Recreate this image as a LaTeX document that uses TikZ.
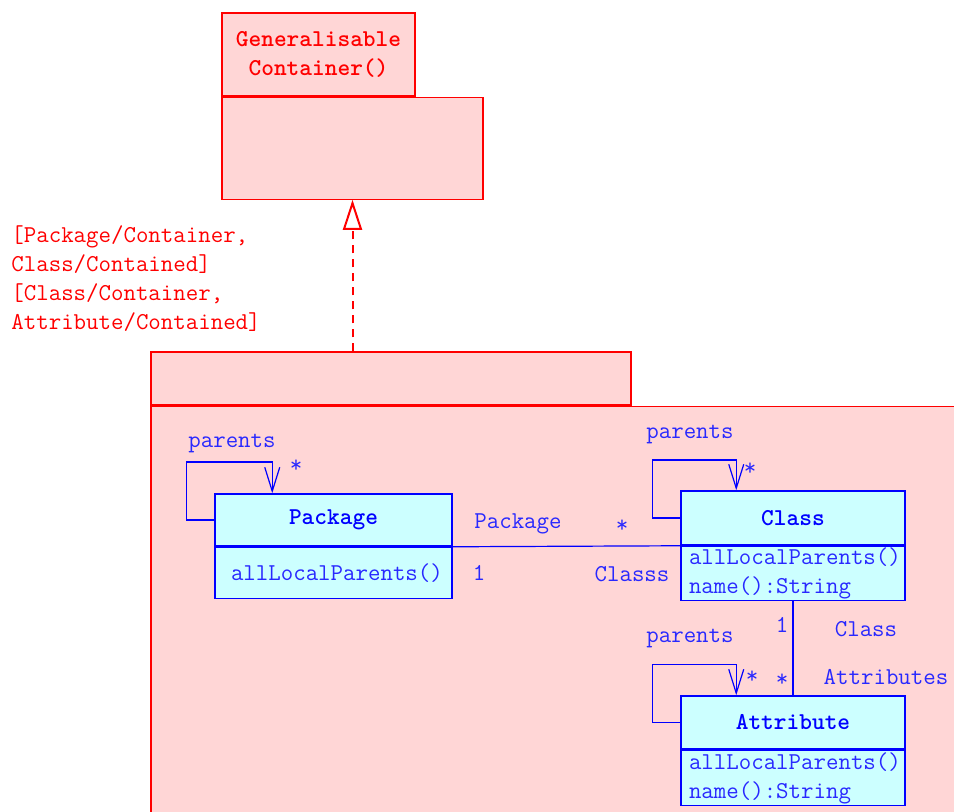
\documentclass[tikz,border=0pt]{standalone}
\usepackage{tikz}
\usetikzlibrary{shapes,arrows,arrows.meta,positioning,calc}
\usepackage{xcolor}
\definecolor{tmplred}{RGB}{255,0,0}
\definecolor{tmplfill}{RGB}{255,214,214}
\definecolor{umlblue}{RGB}{0,0,255}
\definecolor{labelblue}{RGB}{40,40,255}
\definecolor{classfill}{RGB}{204,255,255}
\newcommand{\mbr}[1]{\hspace*{#1}}

\begin{document}
\begin{tikzpicture}[x=0.5pt, y=-0.5pt,
    every node/.style={font=\ttfamily\fontsize{12.1}{14.5}\selectfont, inner sep=0pt},
    tmplbox/.style={rectangle, draw=tmplred, fill=tmplfill, line width=0.6pt},
    tmplhead/.style={tmplbox, align=center, text=tmplred, font=\ttfamily\bfseries\fontsize{12.1}{14.5}\selectfont},
    classhead/.style={rectangle, draw=umlblue, fill=classfill, line width=0.75pt, text=umlblue, font=\ttfamily\bfseries\fontsize{12.1}{14.5}\selectfont},
    classbody/.style={rectangle, draw=umlblue, fill=classfill, line width=0.75pt, text=labelblue, align=left},
    lbl/.style={text=labelblue},
    note/.style={text=tmplred, align=left},
    nav/.style={draw=umlblue, line width=0.6pt, -{Straight Barb[length=12pt, width=7.5pt]}},
    assoc/.style={draw=umlblue, line width=0.6pt},
    realize/.style={draw=tmplred, line width=1pt, dash pattern=on 4pt off 3pt, -{Triangle[open, length=15pt, width=9.5pt, fill=white]}}
]
    \useasboundingbox (0,0) rectangle (954,811);
    \clip (0,0) rectangle (954,811);

    % template container
    \node[tmplhead, minimum width=96.5pt, minimum height=41.5pt] (gctab) at (318.5,54.5) {Generalisable\\Container()};
    \node[tmplbox, minimum width=130.5pt, minimum height=51pt, anchor=north west] (gcbody) at (gctab.south west) {};
    \node[note, anchor=west] (bindings) at (11,279) {[Package/Container,\\Class/Contained]\\{[}Class/Container,\\Attribute/Contained]};

    % bound package
    \node[tmplbox, minimum width=240pt, minimum height=26.5pt] (pkgtab) at (391,378.5) {};
    \node[tmplbox, minimum width=500pt, minimum height=300pt, anchor=north west] (pkgbody) at (pkgtab.south west) {};
    \draw[realize] (gcbody.south |- pkgtab.north) -- (gcbody.south);

    % classes
    \node[classhead, minimum width=118.5pt, minimum height=26pt] (pkghead) at (333.5,520) {Package};
    \node[classbody, text width=118.5pt, minimum height=25.5pt, below=0pt of pkghead] (pkgops) {\mbr{8pt}allLocalParents()};
    \node[classhead, minimum width=112pt, minimum height=27pt] (clshead) at (793,518) {Class};
    \node[classbody, text width=112pt, minimum height=27pt, below=0pt of clshead] (clsops) {\mbr{4pt}allLocalParents()\\\mbr{4pt}name():String};
    \node[classhead, minimum width=112pt, minimum height=26.5pt] (atthead) at (793,722.5) {Attribute};
    \node[classbody, text width=112pt, minimum height=27.5pt, below=0pt of atthead] (attops) {\mbr{4pt}allLocalParents()\\\mbr{4pt}name():String};

    % self associations
    \draw[nav] (pkghead.west) -- ++(-28,0) -- ++(0,-58) -| ([xshift=29pt]pkghead.north west);
    \draw[nav] (clshead.west) -- ++(-28,0) -- ++(0,-58) -| ([xshift=28pt]clshead.north west);
    \draw[nav] (atthead.west) -- ++(-28,0) -- ++(0,-58) -| ([xshift=28pt]atthead.north west);
    \node[lbl] (pkgpar) at (232,443) {parents};
    \node[lbl] (pkgmany) at (296,466) {*};
    \node[lbl] (clspar) at (690,434) {parents};
    \node[lbl] (clsmany) at (750,469) {*};
    \node[lbl] (attpar) at (690,638) {parents};
    \node[lbl] (attmany) at (752,677) {*};

    % associations
    \draw[assoc] (pkgops.north east) -- (clsops.north west);
    \draw[assoc] (clsops.south) -- (atthead.north);
    \node[lbl] (rolepkg) at (518,524) {Package};
    \node[lbl] (manycls) at (622,526) {*};
    \node[lbl] (onepkg) at (479,573) {1};
    \node[lbl] (roleclss) at (632,574) {Classs};
    \node[lbl] (onecls) at (782,625) {1};
    \node[lbl] (manyatt) at (782,680) {*};
    \node[lbl] (rolecls) at (866,629) {Class};
    \node[lbl] (roleatts) at (886,677) {Attributes};
\end{tikzpicture}
\end{document}
